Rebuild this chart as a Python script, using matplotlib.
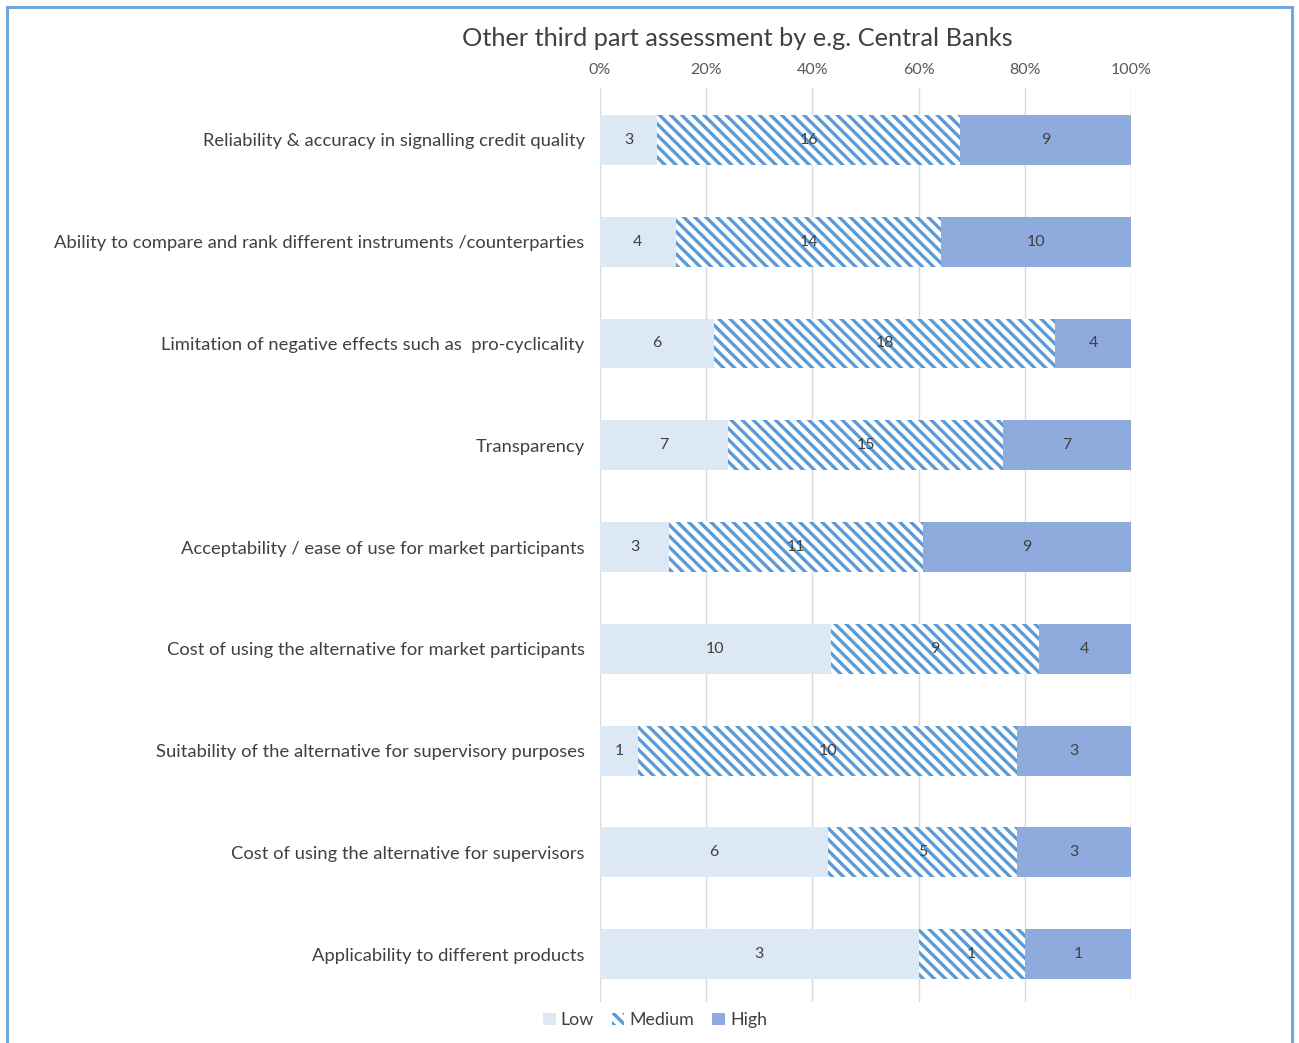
import numpy as np
import matplotlib
matplotlib.use("Agg")
from matplotlib import pyplot as plt
from matplotlib.patches import Rectangle
from matplotlib.ticker import PercentFormatter

# donnees
categories = [
    "Reliability & accuracy in signalling credit quality",
    "Ability to compare and rank different instruments /counterparties",
    "Limitation of negative effects such as  pro-cyclicality",
    "Transparency",
    "Acceptability / ease of use for market participants",
    "Cost of using the alternative for market participants",
    "Suitability of the alternative for supervisory purposes",
    "Cost of using the alternative for supervisors",
    "Applicability to different products",
]
low = [3, 4, 6, 7, 3, 10, 1, 6, 3]
medium = [16, 14, 18, 15, 11, 9, 10, 5, 1]
high = [9, 10, 4, 7, 9, 4, 3, 3, 1]
series_names = ["Low", "Medium", "High"]

plt.rcParams["font.family"] = ["Lato", "DejaVu Sans"]
plt.rcParams["hatch.color"] = "#5B9BD5"
plt.rcParams["hatch.linewidth"] = 2.4

txt = "#404040"
c_low = "#DDE8F5"
c_high = "#8FAADC"

fig = plt.figure(figsize=(12.99, 10.43), dpi=100)
ax = fig.add_axes([600 / 1299, 1 - 1002 / 1043, 531 / 1299, 914 / 1043])

# bordure du graphique
fig.patches.append(Rectangle((7 / 1299, -0.01), 1285 / 1299, 1 - 7 / 1043 + 0.01,
                             transform=fig.transFigure, fill=False,
                             edgecolor="#6FA8DC", linewidth=2.2))

vals = np.array([low, medium, high], dtype=float)
tot = vals.sum(axis=0)
pct = vals / tot * 100
y = np.arange(len(categories))
h = 0.49

left = np.zeros(len(categories))
b1 = ax.barh(y, pct[0], left=left, height=h, color=c_low, label=series_names[0], zorder=2)
left += pct[0]
b2 = ax.barh(y, pct[1], left=left, height=h, color="white", hatch="\\\\\\",
             edgecolor="#5B9BD5", linewidth=0, label=series_names[1], zorder=2)
left += pct[1]
b3 = ax.barh(y, pct[2], left=left, height=h, color=c_high, label=series_names[2], zorder=2)

for bars, v in zip([b1, b2, b3], vals):
    ax.bar_label(bars, labels=[str(int(n)) for n in v], label_type="center",
                 fontsize=11.5, color=txt)

ax.set_xlim(0, 100)
ax.set_ylim(len(categories) - 0.53, -0.51)
ax.xaxis.set_major_formatter(PercentFormatter(decimals=0))
ax.set_xticks(np.arange(0, 101, 20))
ax.xaxis.tick_top()
ax.tick_params(axis="x", length=0, labelsize=11.5, labelcolor="#595959", pad=8)
ax.set_yticks(y)
ax.set_yticklabels(categories, fontsize=13.2, color=txt)
ax.tick_params(axis="y", length=0, pad=11)
ax.grid(axis="x", color="#D9D9D9", linewidth=1, zorder=0)
ax.set_axisbelow(True)
for s in ax.spines.values():
    s.set_visible(False)

fig.text(737 / 1299, 1 - 38 / 1043, "Other third part assessment by e.g. Central Banks",
         ha="center", va="center", fontsize=18.3, color=txt)

fig.legend(handles=[b1, b2, b3], loc="center", bbox_to_anchor=(655 / 1299, 1 - 1020 / 1043),
           ncol=3, frameon=False, fontsize=12.8, handlelength=0.7, handleheight=0.7,
           handletextpad=0.3, columnspacing=1.0, labelcolor=txt)

fig.savefig("out.png", dpi=100)
